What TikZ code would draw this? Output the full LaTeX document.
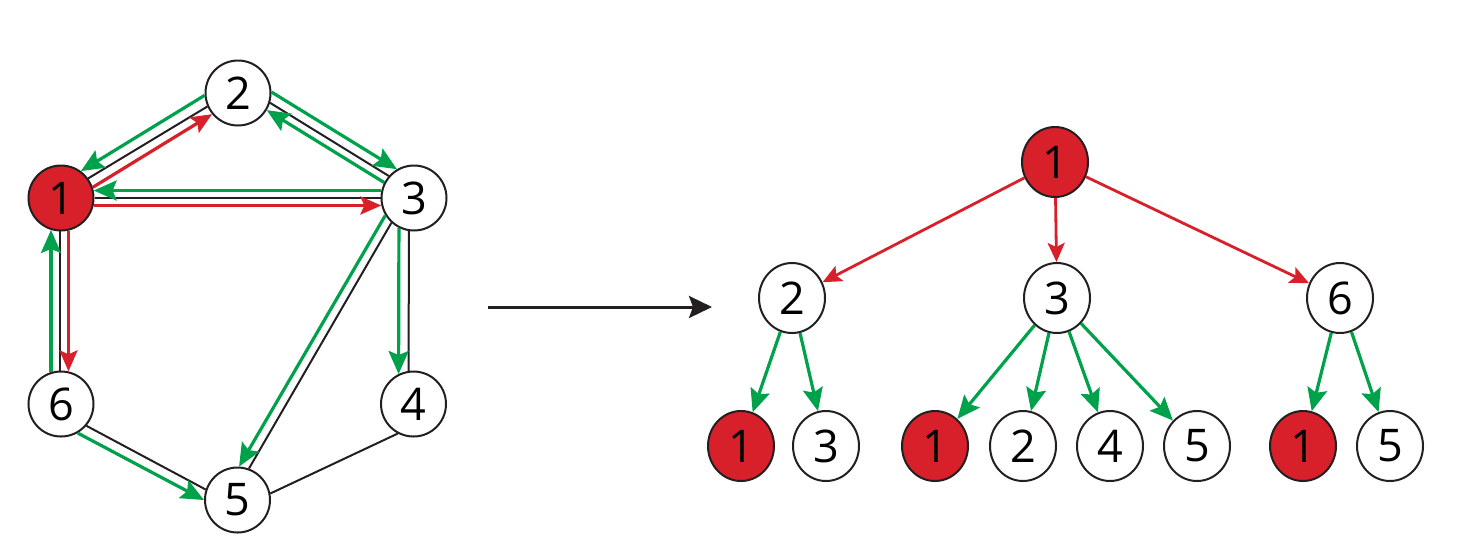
\documentclass[tikz,border=0pt]{standalone}
\usepackage{fontspec}
\setmainfont{Open Sans}
\usetikzlibrary{arrows.meta,calc,shapes.geometric}
\definecolor{myred}{HTML}{D7202A}
\definecolor{mygreen}{HTML}{00A14B}
\definecolor{myblack}{HTML}{231F20}
\newcommand\Rad{33.5}
% #1 style, #2 node A, #3 node B, #4 offset at A, #5 offset at B (left of A->B)
\newcommand\offln[5]{%
  \draw[#1] let \p1=(#2.center), \p2=(#3.center),
    \n1={atan2(\y2-\y1,\x2-\x1)}, \n2={asin((#4)/\Rad)}, \n3={asin((#5)/\Rad)} in
    ([shift={(\n1+\n2:\Rad)}]#2.center) -- ([shift={(\n1+180-\n3:\Rad)}]#3.center);}
\begin{document}
\begin{tikzpicture}[x=1pt,y=1pt,
  vtx/.style={circle,draw=myblack,line width=2pt,minimum size=65pt,inner sep=0pt,
    fill=white,font=\fontsize{45}{45}\selectfont},
  tv/.style={ellipse,draw=myblack,line width=2pt,minimum width=66pt,minimum height=70pt,
    inner sep=0pt,fill=white,font=\fontsize{45}{45}\selectfont},
  hot/.style={fill=myred},
  blk/.style={draw=myblack,line width=2pt},
  gfw/.style={draw=mygreen,line width=3.2pt,-{Stealth[length=23pt,width=20pt,inset=4pt]}},
  gbw/.style={draw=mygreen,line width=3.2pt,{Stealth[length=23pt,width=20pt,inset=4pt]}-},
  rfw/.style={draw=myred,line width=3.2pt,-{Stealth[length=21pt,width=18pt,inset=4pt]}},
  tred/.style={draw=myred,line width=2.8pt,-{Stealth[length=19pt,width=17pt,inset=4pt]}},
  tgrn/.style={draw=mygreen,line width=3.2pt,-{Stealth[length=23pt,width=20pt,inset=4pt]}},
  bigarr/.style={draw=myblack,line width=3pt,-{Stealth[length=23pt,width=22pt,inset=4pt]}}
]
\useasboundingbox (0,0) rectangle (1458,-558);

% left graph nodes
\node[vtx,hot] (L1) at (61,-198) {1};
\node[vtx] (L2) at (238,-93) {2};
\node[vtx] (L3) at (414,-198) {3};
\node[vtx] (L4) at (413.5,-404) {4};
\node[vtx] (L5) at (237.5,-500) {5};
\node[vtx] (L6) at (61,-404) {6};

% edge 1-2
\offln{blk}{L1}{L2}{3}{4}
\offln{gbw}{L1}{L2}{13}{15}
\offln{rfw}{L1}{L2}{-7}{-5}
% edge 2-3
\offln{blk}{L2}{L3}{8}{6}
\offln{gfw}{L2}{L3}{18}{16}
\offln{gbw}{L2}{L3}{0}{-2}
% edge 1-3
\offln{blk}{L1}{L3}{0}{0}
\offln{gbw}{L1}{L3}{7.5}{7.5}
\offln{rfw}{L1}{L3}{-7.5}{-7.5}
% edge 1-6
\offln{blk}{L1}{L6}{-1}{-1}
\offln{gbw}{L1}{L6}{-10}{-10}
\offln{rfw}{L1}{L6}{7.5}{7.5}
% edge 3-4
\offln{blk}{L3}{L4}{-5}{-5}
\offln{gfw}{L3}{L4}{-15}{-15}
% edge 3-5
\offln{blk}{L3}{L5}{-7}{-6}
\offln{gfw}{L3}{L5}{-16}{-15.5}
% edge 6-5
\offln{blk}{L6}{L5}{-7}{-6}
\offln{gfw}{L6}{L5}{-17.5}{-16}
% edge 4-5
\offln{blk}{L4}{L5}{18.4}{10}

% big arrow
\coordinate (as) at (488,-307);
\coordinate (ae) at (712,-307);
\draw[bigarr] (as) -- (ae);

% tree
\node[tv,hot] (T1) at (1055,-162) {1};
\node[tv] (T2) at (792,-298) {2};
\node[tv] (T3) at (1057,-298) {3};
\node[tv] (T6) at (1340,-298) {6};
\node[tv,hot] (a1) at (741,-446) {1};
\node[tv] (a3) at (826,-446) {3};
\node[tv,hot] (b1) at (935,-446) {1};
\node[tv] (b2) at (1023,-446) {2};
\node[tv] (b4) at (1110,-446) {4};
\node[tv] (b5) at (1197,-446) {5};
\node[tv,hot] (c1) at (1303,-446) {1};
\node[tv] (c5) at (1390,-446) {5};

\draw[tred] (T1) -- (T2);
\draw[tred] (T1) -- (T3);
\draw[tred] (T1) -- (T6);
\draw[tgrn] (T2) -- (a1);
\draw[tgrn] (T2) -- (a3);
\draw[tgrn] (T3) -- (b1);
\draw[tgrn] (T3) -- (b2);
\draw[tgrn] (T3) -- (b4);
\draw[tgrn] (T3) -- (b5);
\draw[tgrn] (T6) -- (c1);
\draw[tgrn] (T6) -- (c5);
\end{tikzpicture}
\end{document}
